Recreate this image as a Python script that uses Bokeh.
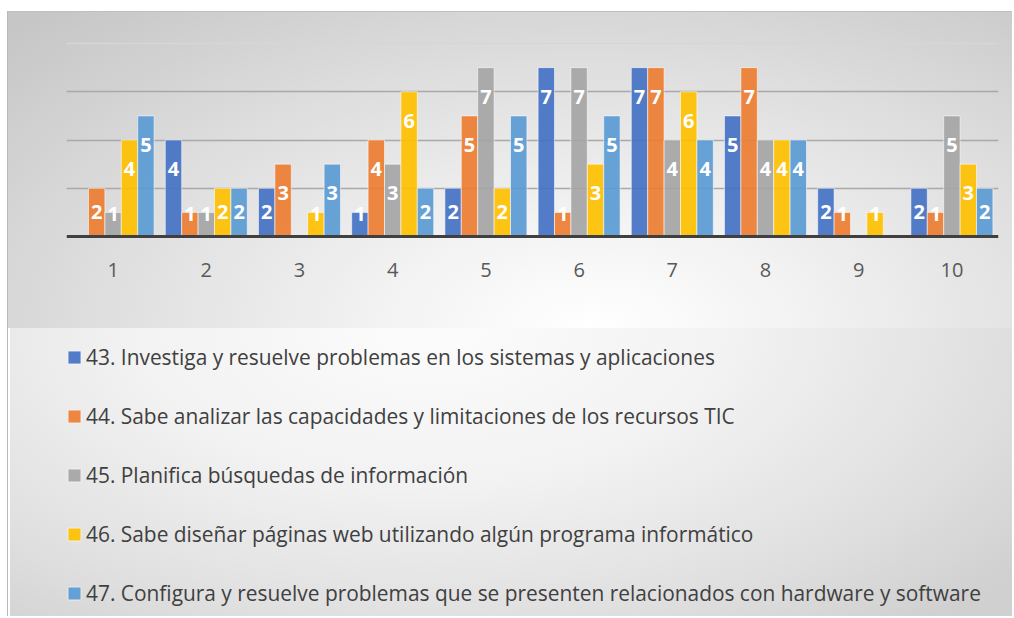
from bokeh.plotting import figure
from bokeh.models import ColumnDataSource, FactorRange, FixedTicker, Grid, Legend, LegendItem, Range1d
from bokeh.transform import dodge
from bokeh.core.properties import value
from bokeh.embed import file_html
from bokeh.resources import INLINE

categories = ["1", "2", "3", "4", "5", "6", "7", "8", "9", "10"]
series_names = [
    "43. Investiga y resuelve problemas en los sistemas y aplicaciones",
    "44. Sabe analizar las capacidades y limitaciones de los recursos TIC",
    "45. Planifica búsquedas de información",
    "46. Sabe diseñar páginas web utilizando algún programa informático",
    "47. Configura y resuelve problemas que se presenten relacionados con hardware y software",
]
s43 = [0, 4, 2, 1, 2, 7, 7, 5, 2, 2]
s44 = [2, 1, 3, 4, 5, 1, 7, 7, 1, 1]
s45 = [1, 1, 0, 3, 7, 7, 4, 4, 0, 5]
s46 = [4, 2, 1, 6, 2, 3, 6, 4, 1, 3]
s47 = [5, 2, 3, 2, 5, 5, 4, 4, 0, 2]
series_values = [s43, s44, s45, s46, s47]
colors = ["#4472C4", "#ED7D31", "#A5A5A5", "#FFC000", "#5B9BD5"]

FONT = "Open Sans"
BAR_W = 0.176

# frame spans the whole figure height (616 px); value 0 sits 380 px above the bottom,
# value 8 sits 43 px below the top
PX_PER_UNIT = 193 / 8
p = figure(
    x_range=FactorRange(*categories),
    y_range=Range1d(-380 / PX_PER_UNIT, 8 + 43 / PX_PER_UNIT),
    width=1012, height=616, output_backend="svg", toolbar_location=None,
    min_border_left=66, min_border_right=14, min_border_top=0, min_border_bottom=0,
)
p.border_fill_color = None
p.background_fill_color = None
p.outline_line_color = None
p.styles = {
    "background-image": ", ".join([
        "linear-gradient(#c0c0c0, #c0c0c0)",
        "linear-gradient(#b8b8b8, #b8b8b8)",
        "radial-gradient(ellipse 80% 135% at 58% 100%, #ffffff 0%, #f3f3f3 25%, #dedede 62%, #c6c6c6 100%)",
        "radial-gradient(ellipse 75% 130% at 42% 0%, #fcfcfc 0%, #f2f2f2 40%, #e0e0e0 75%, #d0d0d0 100%)",
    ]),
    "background-position": "8px 11px, 7px 11px, 8px 11px, 10px 328px",
    "background-size": "calc(100% - 8px) 1px, 1px 100%, calc(100% - 8px) 317px, calc(100% - 10px) 300px",
    "background-repeat": "no-repeat",
}

p.yaxis.visible = False
p.xgrid.visible = False
p.ygrid.ticker = FixedTicker(ticks=[2, 4, 6])
p.ygrid.grid_line_color = "#a9a9a9"
p.ygrid.grid_line_width = 1.5
top_grid = Grid(dimension=1, ticker=FixedTicker(ticks=[8]), grid_line_color="#d6d6d6", grid_line_width=1.5)
p.add_layout(top_grid)

xa = p.xaxis[0]
xa.fixed_location = 0
xa.axis_line_color = "#404040"
xa.axis_line_width = 3
xa.major_tick_line_color = None
xa.minor_tick_line_color = None
xa.major_label_text_font = FONT
xa.major_label_text_font_size = "20px"
xa.major_label_text_color = "#595959"
xa.major_label_standoff = 20

items = []
for i, (name, vals, col) in enumerate(zip(series_names, series_values, colors)):
    off = (i - 2) * BAR_W
    src = ColumnDataSource(dict(x=categories, top=vals))
    r = p.vbar(x=dodge("x", off, range=p.x_range), top="top", width=BAR_W, bottom=0,
               source=src, fill_color=col, fill_alpha=0.92,
               line_color="white", line_alpha=0.55, line_width=1)
    items.append(LegendItem(label=name, renderers=[r]))
    lx, ly, lt = [], [], []
    for c, v in zip(categories, vals):
        if v <= 0:
            continue
        lx.append(c)
        ly.append(v - 1.2 if v >= 3 else (v - 1.0 if v == 2 else v - 0.07))
        lt.append(str(v))
    lsrc = ColumnDataSource(dict(x=lx, y=ly, t=lt))
    p.text(x=dodge("x", off, range=p.x_range), y="y", text="t", source=lsrc,
           text_color="white", text_font=value(FONT), text_font_style="bold",
           text_font_size="20px", text_align="center", text_baseline="middle")

legend = Legend(
    items=items, orientation="vertical", location=(0, 8),
    label_text_font=FONT, label_text_font_size="20.9px", label_text_color="#404040",
    glyph_width=16, glyph_height=16, label_standoff=4, label_height=30,
    spacing=29, padding=0, margin=0, border_line_color=None,
    background_fill_alpha=0,
)
p.add_layout(legend)

open("out.html", "w").write(file_html(p, INLINE))
